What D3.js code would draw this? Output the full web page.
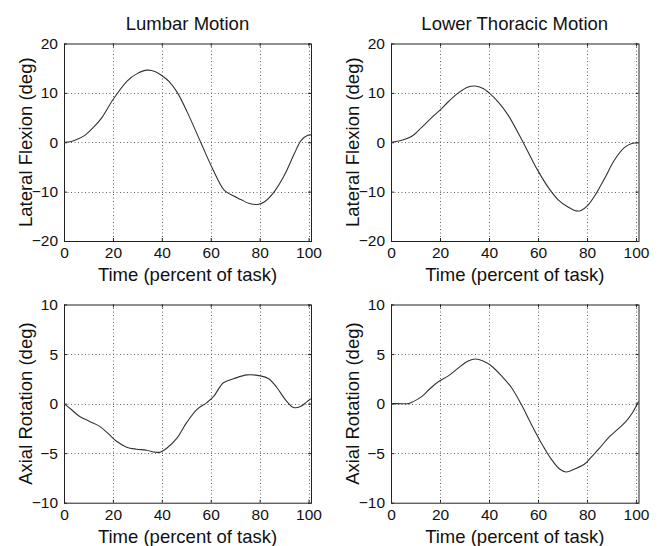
<!DOCTYPE html>
<html>
<head>
<meta charset="utf-8">
<script src="https://cdn.jsdelivr.net/npm/d3@7"></script>
<style>
  html, body { margin: 0; padding: 0; background: #fff; }
  svg { display: block; }
  text { font-family: "Liberation Sans", Arial, sans-serif; fill: #111; }
</style>
</head>
<body>
<svg id="chart" width="661" height="546"></svg>
<script>
// ---- data ----
const xTicks = [0, 20, 40, 60, 80, 100];
const latTicks = [-20, -10, 0, 10, 20];
const axTicks = [-10, -5, 0, 5, 10];
const columnTitles = ["Lumbar Motion", "Lower Thoracic Motion"];
const xLabel = "Time (percent of task)";
const rowLabels = ["Lateral Flexion (deg)", "Axial Rotation (deg)"];

const lumbarLatX = [0, 2.5, 5, 8.5, 12, 15.5, 20, 25.8, 29.9, 34, 37.4, 40, 43, 46.3, 50.4, 55.9, 60.7, 65.5, 68.2, 72.3, 75.8, 79.2, 81.9, 86, 90.1, 94.2, 97, 99.7, 101];
const lumbarLatY = [0, 0.1, 0.5, 1.4, 3, 5, 8.6, 12.4, 13.9, 14.6, 14.3, 13.5, 12.3, 10.1, 6.1, 0, -5.3, -9.7, -10.6, -11.6, -12.4, -12.6, -12.1, -10, -6.7, -2.3, 0.4, 1.4, 1.5];

const thorLatX = [0, 4.4, 8.5, 12.5, 16.6, 20, 23.4, 27.5, 31.5, 34.2, 37.6, 40, 43.7, 47.8, 53.9, 57.3, 60, 64.1, 68.1, 72.2, 75.6, 77.6, 80.3, 83.7, 87.1, 91.2, 95.2, 98, 101];
const thorLatY = [0, 0.4, 1.2, 3, 5, 6.5, 8.2, 10, 11.2, 11.4, 10.9, 10, 8.2, 5.5, 0, -3.3, -5.8, -9.1, -11.6, -13.1, -13.9, -13.8, -12.8, -10.4, -7.4, -3.6, -1.1, -0.3, -0.1];

const lumbarAxX = [0, 3, 6.4, 10.5, 14.6, 18, 21.5, 25.6, 29.7, 33.8, 37.2, 39.3, 42, 46.1, 50.2, 54.3, 58.4, 61.1, 65.2, 69.3, 74.8, 80.3, 83.7, 87.1, 90.5, 93.9, 96.7, 99.4, 101];
const lumbarAxY = [0, -0.6, -1.3, -1.8, -2.3, -3, -3.8, -4.4, -4.6, -4.7, -4.9, -4.9, -4.5, -3.5, -1.9, -0.6, 0.1, 0.7, 2.1, 2.5, 2.9, 2.8, 2.5, 1.6, 0.4, -0.4, -0.3, 0.2, 0.5];

const thorAxX = [0, 2.7, 7.1, 9.1, 12.5, 15.9, 19.3, 23.4, 27.5, 31.5, 34.5, 37.6, 41, 45.1, 49.2, 53.2, 57.3, 61.4, 65.4, 68.8, 71.5, 74.9, 79, 81.7, 85.1, 88.5, 92.5, 95.9, 98.6, 101];
const thorAxY = [0, 0, 0, 0.2, 0.7, 1.5, 2.2, 2.8, 3.6, 4.3, 4.5, 4.3, 3.8, 2.8, 1.6, -0.1, -2.1, -4, -5.6, -6.6, -6.9, -6.6, -6.1, -5.4, -4.5, -3.5, -2.6, -1.8, -0.9, 0.2];

// ---- layout ----
const svg = d3.select("#chart");
const colX = [[64, 311], [391, 638.5]];
const rowY = [[43.5, 241], [304.5, 502.7]];

const panels = [
  { col: 0, row: 0, xs: lumbarLatX, ys: lumbarLatY, dom: [-20, 20], ticks: latTicks },
  { col: 1, row: 0, xs: thorLatX, ys: thorLatY, dom: [-20, 20], ticks: latTicks },
  { col: 0, row: 1, xs: lumbarAxX, ys: lumbarAxY, dom: [-10, 10], ticks: axTicks },
  { col: 1, row: 1, xs: thorAxX, ys: thorAxY, dom: [-10, 10], ticks: axTicks }
];

panels.forEach(p => {
  const [l, r] = colX[p.col];
  const [t, b] = rowY[p.row];
  const x = d3.scaleLinear().domain([0, 101]).range([l, r]);
  const y = d3.scaleLinear().domain(p.dom).range([b, t]);
  const g = svg.append("g");

  // grid
  const grid = g.append("g").attr("stroke", "#666").attr("stroke-width", 1).attr("stroke-dasharray", "1,2.5");
  grid.selectAll("line.vx").data(xTicks.filter(v => v > 0 && v < 101)).enter().append("line")
    .attr("x1", d => Math.round(x(d)) + 0.5).attr("x2", d => Math.round(x(d)) + 0.5)
    .attr("y1", t).attr("y2", b);
  grid.selectAll("line.hy").data(p.ticks.filter(v => v > p.dom[0] && v < p.dom[1])).enter().append("line")
    .attr("y1", d => Math.round(y(d)) + 0.5).attr("y2", d => Math.round(y(d)) + 0.5)
    .attr("x1", l).attr("x2", r);

  // axes
  const fmt = d3.format("d");
  const xa = g.append("g").attr("transform", `translate(0,${b})`)
    .call(d3.axisBottom(x).tickValues(xTicks).tickFormat(fmt).tickSizeInner(-3).tickSizeOuter(0).tickPadding(6));
  const ya = g.append("g").attr("transform", `translate(${l},0)`)
    .call(d3.axisLeft(y).tickValues(p.ticks).tickFormat(fmt).tickSizeInner(-3).tickSizeOuter(0).tickPadding(6));
  [xa, ya].forEach(a => {
    a.select(".domain").remove();
    a.selectAll(".tick line").attr("stroke", "#222");
    a.selectAll("text").attr("font-size", "15.5px").attr("fill", "#111")
      .style("font-family", "'Liberation Sans', Arial, sans-serif");
  });
  // top / right inner ticks
  g.append("g").attr("transform", `translate(0,${t})`)
    .call(d3.axisTop(x).tickValues(xTicks).tickFormat("").tickSizeInner(-3).tickSizeOuter(0))
    .call(a => a.select(".domain").remove()).selectAll("line").attr("stroke", "#222");
  g.append("g").attr("transform", `translate(${r},0)`)
    .call(d3.axisRight(y).tickValues(p.ticks).tickFormat("").tickSizeInner(-3).tickSizeOuter(0))
    .call(a => a.select(".domain").remove()).selectAll("line").attr("stroke", "#222");

  // box
  g.append("rect").attr("x", l + 0.5).attr("y", t + 0.5).attr("width", r - l).attr("height", b - t)
    .attr("fill", "none").attr("stroke", "#222").attr("stroke-width", 1);

  // line
  const pts = p.xs.map((v, i) => [v, p.ys[i]]);
  g.append("path").datum(pts)
    .attr("fill", "none").attr("stroke", "#333").attr("stroke-width", 1.1)
    .attr("d", d3.line().x(d => x(d[0])).y(d => y(d[1])).curve(d3.curveCatmullRom.alpha(0.5)));

  // labels
  const cx = (l + r) / 2, cy = (t + b) / 2;
  g.append("text").attr("x", cx).attr("y", b + 40).attr("text-anchor", "middle")
    .attr("font-size", "18.5px").text(xLabel);
  g.append("text").attr("transform", `translate(${l - 32},${cy}) rotate(-90)`)
    .attr("text-anchor", "middle").attr("font-size", "18.5px").text(rowLabels[p.row]);
  if (p.row === 0) {
    g.append("text").attr("x", cx).attr("y", 30).attr("text-anchor", "middle")
      .attr("font-size", "18.5px").text(columnTitles[p.col]);
  }
});
</script>
</body>
</html>
